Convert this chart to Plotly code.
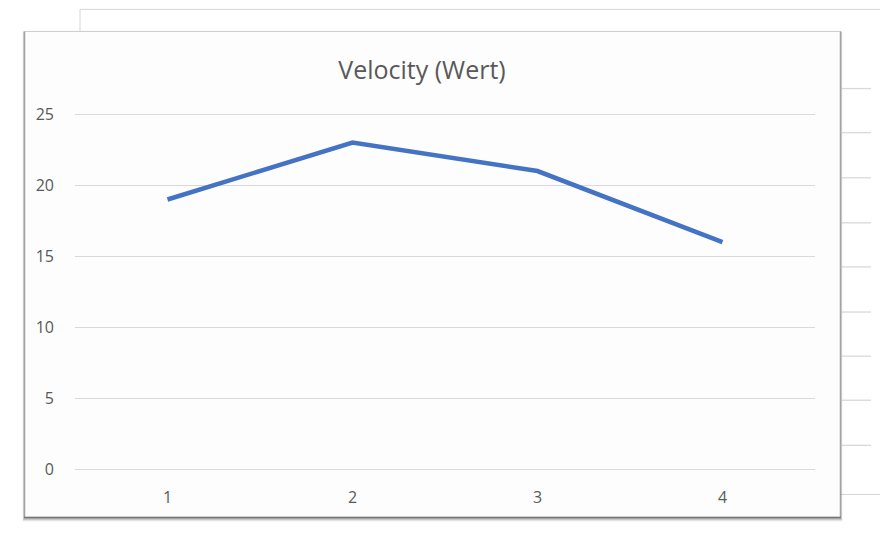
import plotly.graph_objects as go

categories = [1, 2, 3, 4]
velocity = [19, 23, 21, 16]
y_ticks = [0, 5, 10, 15, 20, 25]
title_text = "Velocity (Wert)"

W, H = 880, 541
Y_MIN, Y_MAX = -0.5, 25.5
L, R, T, B = 75, 815, 107.4, 476.6  # plot area in pixels

fig = go.Figure()
fig.add_trace(go.Scatter(
    x=categories, y=velocity, mode="lines",
    line=dict(color="#4472c4", width=4.5),
    hoverinfo="skip", showlegend=False,
))

def px(x):
    return (x - L) / (R - L)

def py(y):
    return (B - y) / (B - T)

shapes = []
# back card
shapes.append(dict(type="rect", xref="paper", yref="paper", layer="below",
                   x0=px(80), x1=px(884), y0=py(494), y1=py(10),
                   fillcolor="#ffffff", line=dict(color="#d6d6d6", width=1)))
for yy in [89, 133, 178, 223, 267, 312, 356, 400, 445]:
    shapes.append(dict(type="line", xref="paper", yref="paper", layer="below",
                       x0=px(842), x1=px(871), y0=py(yy), y1=py(yy),
                       line=dict(color="#d9d9d9", width=1.3)))
# shadow of front card
for off, alpha in [(5, 0.06), (4, 0.10), (3, 0.15), (2, 0.22), (1, 0.32)]:
    shapes.append(dict(type="rect", xref="paper", yref="paper", layer="below",
                       x0=px(25 - off / 2), x1=px(840 + off / 2),
                       y0=py(516 + off), y1=py(32),
                       fillcolor="rgba(0,0,0,%s)" % alpha, line=dict(width=0)))
# front card
shapes.append(dict(type="rect", xref="paper", yref="paper", layer="below",
                   x0=px(25), x1=px(840), y0=py(516), y1=py(32),
                   fillcolor="#fdfdfd", line=dict(color="#cfcfcf", width=1)))

fig.update_layout(
    width=W, height=H,
    margin=dict(l=L, r=W - R, t=T, b=H - B),
    paper_bgcolor="#ffffff",
    plot_bgcolor="rgba(0,0,0,0)",
    shapes=shapes,
    font=dict(family="Open Sans, Lato, sans-serif", color="#595959"),
    title=dict(text=title_text, x=px(422), xref="paper", y=1 - 70 / H, yref="container",
               xanchor="center", yanchor="middle",
               font=dict(size=25, color="#595959", family="Open Sans, sans-serif")),
    xaxis=dict(range=[0.5, 4.5], tickvals=categories, ticktext=[str(c) for c in categories],
               showgrid=False, zeroline=False, showline=False,
               ticks="", ticklen=0, tickfont=dict(size=16, color="#595959"),
               fixedrange=True),
    yaxis=dict(range=[Y_MIN, Y_MAX], tickvals=y_ticks, ticktext=[str(v) for v in y_ticks],
               showgrid=True, gridcolor="#d9d9d9", gridwidth=1.3,
               zeroline=False, showline=False, ticks="",
               tickfont=dict(size=16, color="#595959"), fixedrange=True),
)
fig.update_xaxes(ticklabelstandoff=9)
fig.update_yaxes(ticklabelstandoff=20)

fig.write_html("out.html")
